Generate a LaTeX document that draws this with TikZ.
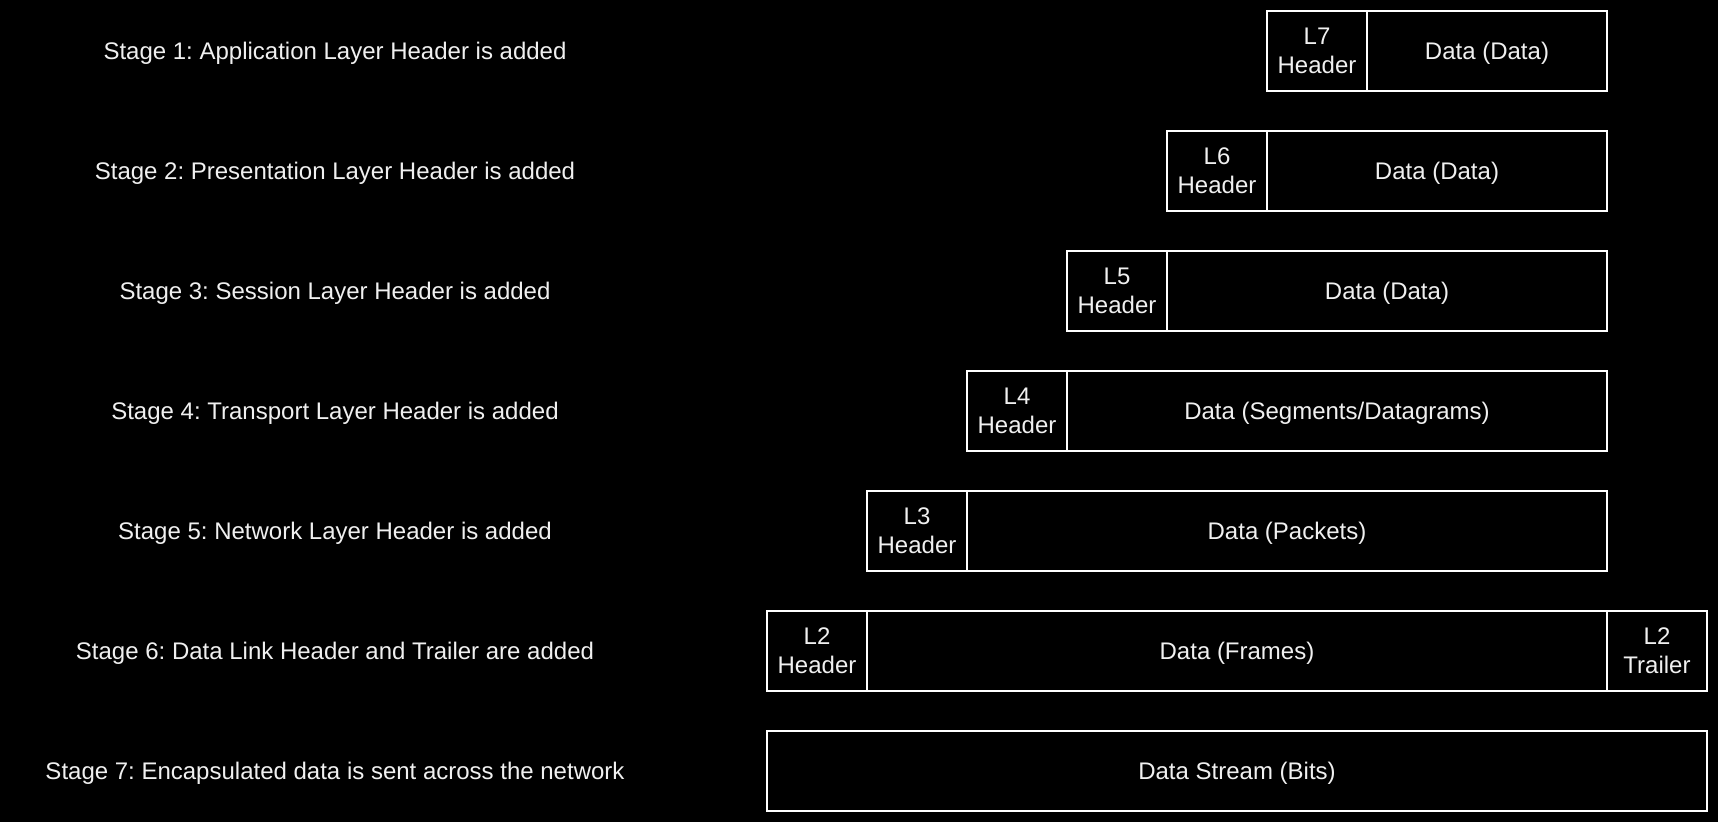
\documentclass[tikz,border=0pt]{standalone}
\usepackage{fontspec}
\setmainfont{Liberation Sans}
\usepackage{tikz}
\usetikzlibrary{positioning}
\definecolor{fgtext}{HTML}{F0F0F0}
\frenchspacing

\begin{document}
\begin{tikzpicture}[
		x=0.5pt, y=-0.5pt,
		stagelabel/.style={text=fgtext, text depth=0pt, font=\fontsize{12}{14.4}\selectfont},
		pdubox/.style={draw=white, line width=1pt, text=fgtext, align=center, inner sep=0pt, outer sep=0pt,
			minimum height=40pt, text depth=0pt, font=\fontsize{12}{14.4}\selectfont},
		hdrbox/.style={pdubox, minimum width=50pt},
	]

	%Background
	\fill[black] (0,0) rectangle (1718,822);
	\useasboundingbox (0,0) rectangle (1718,822);

	%Stages
	\node[stagelabel] (s1) at (335,51)  {Stage 1: Application Layer Header is added};
	\node[stagelabel] (s2) at (335,171) {Stage 2: Presentation Layer Header is added};
	\node[stagelabel] (s3) at (335,291) {Stage 3: Session Layer Header is added};
	\node[stagelabel] (s4) at (335,411) {Stage 4: Transport Layer Header is added};
	\node[stagelabel] (s5) at (335,531) {Stage 5: Network Layer Header is added};
	\node[stagelabel] (s6) at (335,651) {Stage 6: Data Link Header and Trailer are added};
	\node[stagelabel] (s7) at (335,771) {Stage 7: Encapsulated data is sent across the network};

	%Headers
	\node[hdrbox] (h7) at (1317,51)  {L7\\Header};
	\node[hdrbox] (h6) at (1217,171) {L6\\Header};
	\node[hdrbox] (h5) at (1117,291) {L5\\Header};
	\node[hdrbox] (h4) at (1017,411) {L4\\Header};
	\node[hdrbox] (h3) at (917,531)  {L3\\Header};
	\node[hdrbox] (h2) at (817,651)  {L2\\Header};

	%Data
	\node[pdubox, minimum width=120pt] (d7) [right=0pt of h7] {Data (Data)};
	\node[pdubox, minimum width=170pt] (d6) [right=0pt of h6] {Data (Data)};
	\node[pdubox, minimum width=220pt] (d5) [right=0pt of h5] {Data (Data)};
	\node[pdubox, minimum width=270pt] (d4) [right=0pt of h4] {Data (Segments/Datagrams)};
	\node[pdubox, minimum width=320pt] (d3) [right=0pt of h3] {Data (Packets)};
	\node[pdubox, minimum width=370pt] (d2) [right=0pt of h2] {Data (Frames)};
	\node[hdrbox] (t2) [right=0pt of d2] {L2\\Trailer};

	%Bits
	\node[pdubox, minimum width=470pt] (bits) at (1237,771) {Data Stream (Bits)};

\end{tikzpicture}
\end{document}
